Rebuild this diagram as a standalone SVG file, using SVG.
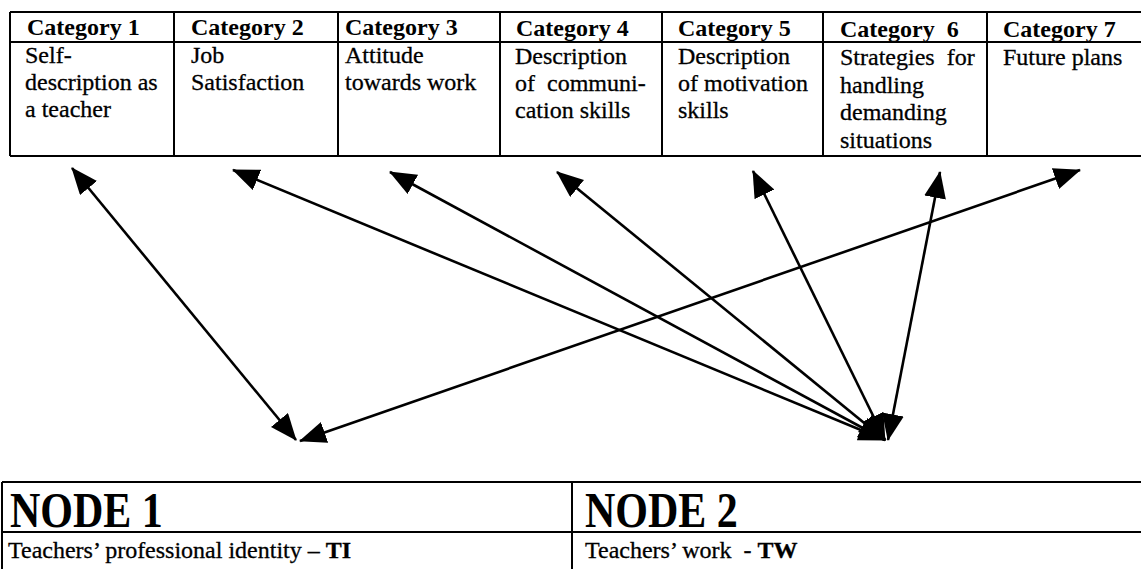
<svg xmlns="http://www.w3.org/2000/svg" width="1141" height="569" viewBox="0 0 1141 569">
  <style>
    .grid { fill: none; stroke: #000; stroke-width: 2; }
    .hd { font-family: "Liberation Serif", "Times New Roman", serif; font-size: 24px; font-weight: bold; fill: #000; }
    .tx { font-family: "Liberation Serif", "Times New Roman", serif; font-size: 24px; fill: #000; stroke: #000; stroke-width: 0.3; }
    .node-hd { font-family: "Liberation Serif", "Times New Roman", serif; font-size: 42px; font-weight: bold; fill: #000; }
    .link { fill: none; stroke: #000; stroke-width: 2.6; marker-start: url(#head); marker-end: url(#head); }
  </style>
  <defs>
    <marker id="head" viewBox="0 0 27 22" refX="26" refY="11" markerWidth="27" markerHeight="22" markerUnits="userSpaceOnUse" orient="auto-start-reverse">
      <path d="M0,0 L27,11 L0,22 Z" fill="#000"/>
    </marker>
  </defs>
  <rect width="1141" height="569" fill="#fff"/>

  <!-- category table -->
  <g id="category-table">
    <path class="grid" d="M10,12 H1150 M10,42 H1150 M10,156 H1150 M10,12 V156 M174,12 V156 M338,12 V156 M500,12 V156 M662,12 V156 M823,12 V156 M987,12 V156"/>
    <g id="category-1">
      <text class="hd" x="27" y="35">Category 1</text>
      <text class="tx" x="25" y="63">Self-</text>
      <text class="tx" x="25" y="90">description as</text>
      <text class="tx" x="25" y="117">a teacher</text>
    </g>
    <g id="category-2">
      <text class="hd" x="191" y="35">Category 2</text>
      <text class="tx" x="191" y="63">Job</text>
      <text class="tx" x="191" y="90">Satisfaction</text>
    </g>
    <g id="category-3">
      <text class="hd" x="345" y="35">Category 3</text>
      <text class="tx" x="345" y="63">Attitude</text>
      <text class="tx" x="345" y="90">towards work</text>
    </g>
    <g id="category-4">
      <text class="hd" x="516" y="36">Category 4</text>
      <text class="tx" x="515" y="64">Description</text>
      <text class="tx" x="515" y="91">of&#160; communi-</text>
      <text class="tx" x="515" y="118">cation skills</text>
    </g>
    <g id="category-5">
      <text class="hd" x="678" y="36">Category 5</text>
      <text class="tx" x="678" y="64">Description</text>
      <text class="tx" x="678" y="91">of motivation</text>
      <text class="tx" x="678" y="118">skills</text>
    </g>
    <g id="category-6">
      <text class="hd" x="840" y="37">Category&#160; 6</text>
      <text class="tx" x="840" y="65">Strategies&#160; for</text>
      <text class="tx" x="840" y="92.5">handling</text>
      <text class="tx" x="840" y="120">demanding</text>
      <text class="tx" x="840" y="147.5">situations</text>
    </g>
    <g id="category-7">
      <text class="hd" x="1003" y="37">Category 7</text>
      <text class="tx" x="1003" y="65">Future plans</text>
    </g>
  </g>

  <!-- links between categories and nodes -->
  <g id="connectors">
    <line class="link" x1="72" y1="168" x2="296" y2="440"/>
    <line class="link" x1="1080" y1="170" x2="300" y2="441"/>
    <line class="link" x1="233" y1="170" x2="885" y2="440"/>
    <line class="link" x1="390" y1="172" x2="885" y2="440"/>
    <line class="link" x1="557" y1="172" x2="885" y2="440"/>
    <line class="link" x1="753" y1="171" x2="885" y2="440"/>
    <line class="link" x1="940" y1="172" x2="888" y2="440"/>
  </g>

  <!-- node table -->
  <g id="node-table">
    <path class="grid" d="M2,482 H1150 M2,532 H1150 M2,482 V575 M572,482 V575"/>
    <g id="node-1">
      <text class="node-hd" transform="translate(10,527) scale(1,1.2)">NODE 1</text>
      <text class="tx" x="8" y="558">Teachers’ professional identity – <tspan font-weight="bold">TI</tspan></text>
    </g>
    <g id="node-2">
      <text class="node-hd" transform="translate(585,527) scale(1,1.2)">NODE 2</text>
      <text class="tx" x="585" y="558">Teachers’ work&#160; - <tspan font-weight="bold">TW</tspan></text>
    </g>
  </g>
</svg>
